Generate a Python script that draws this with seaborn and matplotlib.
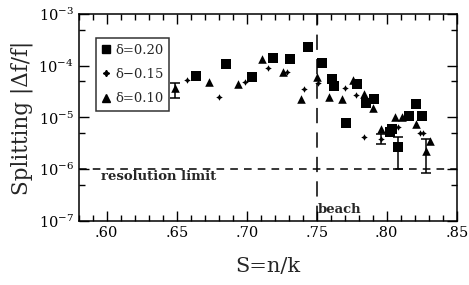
import numpy as np
import pandas as pd
import matplotlib
matplotlib.use("Agg")
import matplotlib.pyplot as plt
import matplotlib.ticker as mticker
from matplotlib.lines import Line2D
import seaborn as sns

# values
S_020 = [0.664, 0.685, 0.704, 0.719, 0.731, 0.744, 0.754, 0.761, 0.762, 0.779,
         0.785, 0.791, 0.771, 0.802, 0.804, 0.816, 0.821, 0.825, 0.808]
V_020 = [6.3e-5, 1.08e-4, 6.1e-5, 1.41e-4, 1.35e-4, 2.3e-4, 1.13e-4, 5.5e-5, 4.1e-5, 4.4e-5,
         1.9e-5, 2.3e-5, 7.8e-6, 5.2e-6, 6.0e-6, 1.07e-5, 1.8e-5, 1.07e-5, 2.7e-6]

S_015 = [0.657, 0.680, 0.699, 0.715, 0.729, 0.741, 0.751, 0.770, 0.778, 0.784,
         0.796, 0.808, 0.824, 0.826]
V_015 = [5.3e-5, 2.5e-5, 4.9e-5, 9.1e-5, 7.6e-5, 3.6e-5, 4.6e-5, 3.7e-5, 2.7e-5, 4.2e-6,
         3.8e-6, 6.6e-6, 5.0e-6, 5.0e-6]

S_010 = [0.649, 0.673, 0.694, 0.711, 0.726, 0.739, 0.750, 0.759, 0.768, 0.776,
         0.784, 0.790, 0.796, 0.806, 0.811, 0.821, 0.831, 0.828]
V_010 = [3.7e-5, 4.9e-5, 4.4e-5, 1.35e-4, 7.6e-5, 2.3e-5, 6.1e-5, 2.5e-5, 2.3e-5, 5.3e-5,
         2.8e-5, 1.5e-5, 6.0e-6, 1.02e-5, 1.02e-5, 7.5e-6, 3.5e-6, 2.25e-6]

# error bars
err_S = [0.649, 0.796, 0.808, 0.828]
err_V = [3.7e-5, 3.8e-6, 2.7e-6, 2.25e-6]
err_lo = [2.4e-5, 3.1e-6, 1.0e-6, 8.6e-7]
err_hi = [4.7e-5, 4.8e-6, 4.2e-6, 3.8e-6]

resolution_limit = 1e-6
beach = 0.75

sns.set_theme(style="ticks")
plt.rcParams["font.family"] = ["DejaVu Serif"]
plt.rcParams["mathtext.fontset"] = "dejavuserif"

df = pd.concat([
    pd.DataFrame({"S": S_020, "split": V_020, "delta": "0.20"}),
    pd.DataFrame({"S": S_015, "split": V_015, "delta": "0.15"}),
    pd.DataFrame({"S": S_010, "split": V_010, "delta": "0.10"}),
])

star4 = (4, 1, 0)
markers = {"0.20": "s", "0.15": star4, "0.10": "^"}
sizes = {"0.20": 42, "0.15": 22, "0.10": 38}

fig = plt.figure(figsize=(4.69, 2.85), dpi=100)
ax = fig.add_axes([0.168, 0.2246, 0.806, 0.7264])

for d, sub in df.groupby("delta"):
    sns.scatterplot(data=sub, x="S", y="split", marker=markers[d], s=sizes[d],
                    color="black", edgecolor="black", linewidth=0, ax=ax, legend=False)

yerr = [np.array(err_V) - np.array(err_lo), np.array(err_hi) - np.array(err_V)]
ax.errorbar(err_S, err_V, yerr=yerr, fmt="none", ecolor="black", elinewidth=1.1,
            capsize=3.5, capthick=1.1)

ax.axhline(resolution_limit, color="black", lw=1.1, ls=(0, (5, 4)))
ax.axvline(beach, color="black", lw=1.1, ls=(0, (10, 6)))
ax.text(0.596, 7.3e-7, "resolution limit", fontsize=9.5, fontweight="semibold", va="center")
ax.text(0.751, 1.7e-7, "beach", fontsize=9.5, fontweight="semibold", va="center")

ax.set_yscale("log")
ax.set_xlim(0.58, 0.85)
ax.set_ylim(1e-7, 1e-3)
ax.xaxis.set_major_locator(mticker.MultipleLocator(0.05))
ax.xaxis.set_minor_locator(mticker.MultipleLocator(0.01))
ax.xaxis.set_major_formatter(mticker.FuncFormatter(lambda v, p: ("%.2f" % v)[1:]))
ax.yaxis.set_major_locator(mticker.LogLocator(base=10, numticks=10))
ax.yaxis.set_minor_locator(mticker.LogLocator(base=10, subs=[5.0], numticks=10))
ax.yaxis.set_minor_formatter(mticker.NullFormatter())
ax.yaxis.set_major_formatter(mticker.FuncFormatter(
    lambda v, p: r"$10^{%d}$" % int(round(np.log10(v)))))
ax.tick_params(which="both", direction="in", top=True, right=True, colors="black",
               labelsize=10.5)
ax.tick_params(which="major", length=7, width=1)
ax.tick_params(which="minor", length=4, width=1)
for sp in ax.spines.values():
    sp.set_linewidth(1.1)
    sp.set_color("black")

ax.set_xlabel("S=n/k", fontsize=15, labelpad=12)
ax.set_ylabel("Splitting |Δf/f|", fontsize=15.5, labelpad=4)

handles = [
    Line2D([], [], marker="s", color="black", ls="none", markersize=6),
    Line2D([], [], marker=star4, color="black", ls="none", markersize=4.5),
    Line2D([], [], marker="^", color="black", ls="none", markersize=6),
]
leg = ax.legend(handles, ["δ=0.20", "δ−0.15", "δ=0.10"], loc="upper left",
                bbox_to_anchor=(0.045, 0.885), frameon=True, fancybox=False,
                edgecolor="black", fontsize=9.5, handlelength=0.6, handletextpad=0.4,
                borderpad=0.45, labelspacing=0.85, borderaxespad=0)
leg.get_frame().set_linewidth(1.1)

fig.savefig("out.png", dpi=100)
